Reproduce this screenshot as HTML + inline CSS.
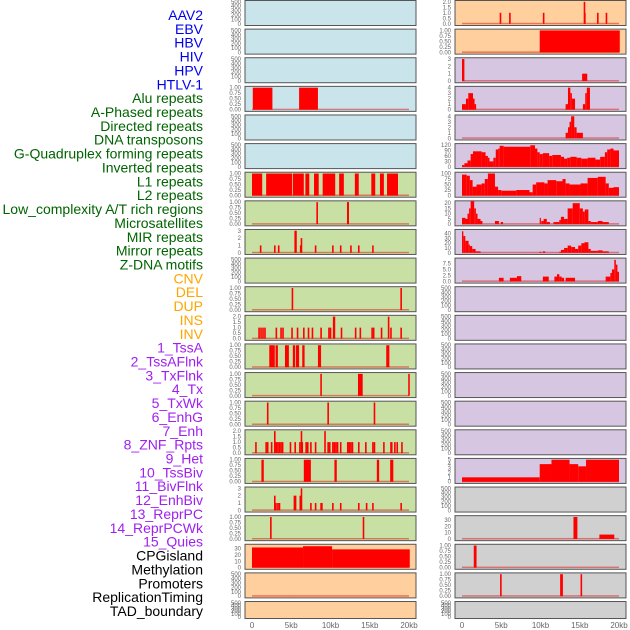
<!DOCTYPE html>
<html><head><meta charset="utf-8">
<style>
html,body{margin:0;padding:0;background:#fff;width:630px;height:630px;overflow:hidden}
svg{display:block}
.lab{font-family:"Liberation Sans",sans-serif;font-size:14px}
.tk{font-family:"Liberation Sans",sans-serif;font-size:6px;fill:#666}
.xt{font-family:"Liberation Sans",sans-serif;font-size:8px;fill:#666}
</style></head>
<body>
<svg id="chart" width="630" height="630" viewBox="0 0 630 630"></svg>
<script>
// ---------- data ----------
const trackLabels = ["AAV2","EBV","HBV","HIV","HPV","HTLV-1","Alu repeats","A-Phased repeats","Directed repeats","DNA transposons","G-Quadruplex forming repeats","Inverted repeats","L1 repeats","L2 repeats","Low_complexity A/T rich regions","Microsatellites","MIR repeats","Mirror repeats","Z-DNA motifs","CNV","DEL","DUP","INS","INV","1_TssA","2_TssAFlnk","3_TxFlnk","4_Tx","5_TxWk","6_EnhG","7_Enh","8_ZNF_Rpts","9_Het","10_TssBiv","11_BivFlnk","12_EnhBiv","13_ReprPC","14_ReprPCWk","15_Quies","CPGisland","Methylation","Promoters","ReplicationTiming","TAD_boundary"];
const trackGroups = ["virus","virus","virus","virus","virus","virus","repeat","repeat","repeat","repeat","repeat","repeat","repeat","repeat","repeat","repeat","repeat","repeat","repeat","sv","sv","sv","sv","sv","chrom","chrom","chrom","chrom","chrom","chrom","chrom","chrom","chrom","chrom","chrom","chrom","chrom","chrom","chrom","other","other","other","other","other"];
const xTickValues = [0,5,10,15,20];
const xTickLabels = ["0","5kb","10kb","15kb","20kb"];

// y-axis max per track
const trackMax = [500,500,500,1,500,500, 1,1,3,500,1,2,1,1,1,2,1,3,1, 35,500,500, 2,1, 3,4,4,120,100,21,46,9.2,500,500,500,500,500,500,5, 500,35,1,1,500];
// y tick labels per track
const T500=["0","100","200","300","400","500"], T1=["0.00","0.25","0.50","0.75","1.00"], T2=["0.0","0.5","1.0","1.5","2.0"], T3=["0","1","2","3"];
const trackTicks = [T500,T500,T500,T1,T500,T500, T1,T1,T3,T500,T1,T2,T1,T1,T1,T2,T1,T3,T1, ["0","10","20","30"],T500,T500, T2,T1, T3,["0","1","2","3","4"],["0","1","2","3","4"],["0","30","60","90","120"],["0","25","50","75","100"],["0","5","10","15","20"],["0","10","20","30","40"],["0.0","2.5","5.0","7.5"],T500,T500,T500,T500,T500,T500,["0","1","2","3","4","5"], T500,["0","10","20","30"],T1,T1,T500];

// blocks: [startKb, endKb, value]
const hivBlocks = [[0.1,2.6,1],[6.0,8.4,1]];
const aluBlocks = [[0,1.3,1],[1.8,5.1,1],[5.2,6.6,1],[6.8,7.3,1],[7.9,8.5,1],[9.0,10.6,1],[11.1,11.7,1],[13.1,13.6,1],[15.2,15.7,1],[16.3,16.8,1],[17.2,18.6,1]];
const l1Blocks = [[2.2,2.9,1],[3.0,3.3,1],[4.2,4.7,1],[5.2,5.5,1],[5.6,6.0,1],[6.4,6.7,1],[8.4,8.8,1],[17.1,17.5,1]];
const l2Blocks = [[8.7,8.9,1],[13.5,14.1,1],[19.9,20.1,1]];
const microBlocks = [[1.2,1.5,1],[6.6,7.5,1],[10.5,10.8,1],[15.9,16.2,1],[17.6,18.0,1]];
const cnvBlocks = [[0,6.5,32],[6.5,10.2,34],[10.2,20.1,29]];
const invBlocks = [[9.9,20.1,1]];
const tssAFlnkBlocks = [[0,0.5,1],[0.5,0.8,2],[0.8,1.4,3],[1.4,1.6,2],[1.6,1.8,1],[13.2,13.5,1],[13.5,13.8,4],[13.8,14.0,3],[14.0,14.4,2],[15.4,15.7,1],[15.7,15.9,3],[15.9,16.3,4]];
const txFlnkBlocks = [[13.2,13.5,1],[13.5,13.7,2],[13.7,13.9,3],[13.9,14.3,4],[14.3,14.6,2],[14.6,15.4,1]];
const txBlocks = [[0,0.3,10],[0.3,0.7,20],[0.7,1.1,35],[1.1,1.4,70],[1.4,2.5,85],[2.5,3.0,80],[3.0,3.3,60],[3.3,3.5,50],[3.5,4.0,30],[4.0,4.3,50],[4.3,4.6,95],[4.6,4.8,100],[4.8,5.3,115],[5.3,8.7,110],[8.7,9.3,118],[9.3,9.6,100],[9.6,9.9,80],[9.9,10.3,70],[10.3,11.1,75],[11.1,11.5,60],[11.5,12.6,65],[12.6,13.0,55],[13.0,13.4,45],[13.4,13.8,50],[13.8,14.6,55],[14.6,15.2,50],[15.2,16.0,45],[16.0,17.0,50],[17.0,17.6,40],[17.6,18.2,55],[18.2,18.5,80],[18.5,18.9,95],[18.9,19.3,100],[19.3,20,90]];
const txWkBlocks = [[0,0.6,95],[0.6,1.0,90],[1.0,1.35,70],[1.35,1.85,40],[1.85,2.5,50],[2.5,2.9,55],[2.9,3.3,75],[3.3,4.2,100],[4.2,4.6,40],[4.6,5.0,25],[5.0,6.9,22],[6.9,8.6,25],[8.6,9.0,15],[9.0,9.45,50],[9.45,10.5,60],[10.5,10.9,55],[10.9,12.0,70],[12.0,12.8,65],[12.8,13.2,75],[13.2,13.7,55],[13.7,15.1,50],[15.1,16.0,55],[16.0,17.3,80],[17.3,18.3,85],[18.3,18.7,55],[18.7,19.3,35],[19.3,20,38]];
const enhGBlocks = [[0,0.45,6],[0.45,0.7,5],[0.7,0.9,10],[0.9,1.1,15],[1.1,1.55,22],[1.55,1.77,15],[1.77,1.98,10],[1.98,2.36,5],[2.36,2.6,3],[4.2,4.7,3],[4.94,5.23,2],[9.9,10.05,6],[10.1,10.4,3],[10.4,10.8,5],[10.8,11.2,2],[11.65,12.4,2],[12.4,12.6,4],[12.6,13.0,7],[13.0,13.46,5],[13.46,14.1,15],[14.1,15.0,20],[15.0,15.4,15],[15.4,15.65,12],[15.65,16.1,14],[16.1,16.4,3],[16.4,17.3,2],[17.3,17.9,3],[17.9,18.7,2]];
const enhBlocks = [[0,0.17,45],[0.17,0.42,35],[0.42,0.84,25],[0.84,1.0,17],[1.0,1.3,14],[1.3,1.73,8],[1.73,2.36,3],[9.87,10.1,2],[10.3,10.6,3],[12.4,12.6,2],[12.6,13.0,6],[13.0,13.46,10],[13.46,13.9,15],[13.9,14.4,12],[14.4,14.8,8],[14.8,15.2,15],[15.2,15.6,20],[15.6,16.1,22],[16.1,16.4,8],[16.4,17.3,4],[17.3,17.9,5],[17.9,18.7,3]];
const znfBlocks = [[4.7,5.3,1.5],[6.1,7.0,1.5],[7.0,7.55,2.2],[10.3,11.05,2],[11.77,12.1,2],[12.1,12.4,3],[12.4,12.7,2],[12.7,13.0,1.5],[13.2,14.4,1.5],[18.3,18.9,2],[18.9,19.1,3.5],[19.1,19.4,5],[19.4,19.6,9],[19.6,19.8,7],[19.8,20,4]];
const quiesBlocks = [[0,9.9,1],[9.9,11.4,4],[11.4,13.7,5],[13.7,14.8,4],[14.8,15.8,3.5],[15.8,20,5]];
const methBlocks = [[14.2,14.7,35],[17.5,19.4,7]];

// spikes: [kb, value]
const aphasedSpikes = [[8.2,1],[12.1,1],[12.15,1]];
const directedSpikes = [[1.0,1],[2.8,1],[3.3,1],[5.4,3],[5.5,3],[6.1,1],[6.2,2],[8.0,1],[10.2,1],[11.2,1],[12.5,1],[13.5,1],[15.3,1]];
const gquadSpikes = [[5.05,1],[18.9,1]];
const invertedSpikes = [[0.8,1],[1.05,1],[1.3,1],[1.55,1],[3.0,1],[3.6,1],[3.85,1],[5.0,1],[5.7,1],[6.5,1],[7.1,1],[7.6,1],[8.7,1],[9.7,1],[9.9,1],[10.3,2],[10.4,2],[11.3,1],[13.1,1],[13.7,1],[15.2,1],[15.4,1],[16.4,1],[17.3,2],[17.6,1],[18.9,1]];
const lowcompSpikes = [[1.9,1],[9.6,1],[15.5,1]];
const mirSpikes = [[0.4,1],[1.7,1],[1.9,1],[2.4,1],[2.8,2],[3.0,1],[3.2,1],[3.4,1],[3.6,1],[3.8,1],[4.8,1],[5.4,1],[6.0,1],[6.2,2],[6.3,1],[6.8,1],[7.0,1],[7.4,1],[8.0,1],[9.2,2],[9.6,1],[9.8,1],[10.2,1],[10.4,1],[10.6,1],[10.8,1],[11.2,1],[12.1,1],[12.3,1],[12.5,1],[12.7,1],[13.5,1],[14.4,1],[15.3,1],[15.5,1],[16.7,1],[17.6,1],[17.7,1],[18.1,1],[18.4,1],[19.0,1]];
const mirrorSpikes = [[2.8,2],[2.95,1],[3.2,1],[3.4,1],[5.3,2],[5.45,2],[6.05,2],[6.2,3],[7.4,1],[8.0,1],[8.7,1],[8.8,1],[10.2,1],[11.2,1],[13.5,1],[14.5,1],[15.3,1],[18.9,1]];
const zdnaSpikes = [[2.3,1],[14.1,1]];
const delSpikes = [[5.05,1],[18.9,1]];
const insSpikes = [[4.8,1],[6.0,1],[10.3,1],[15.5,2],[15.55,1],[17.2,1],[18.3,1]];
const tssASpikes = [[0.0,3],[0.1,3],[15.3,1],[15.45,1],[15.6,1],[15.75,1]];
const promoterSpikes = [[1.5,1],[1.65,1]];
const replSpikes = [[4.85,1],[12.5,1],[12.65,1],[15.1,1]];

const trackBlocks = {3:hivBlocks,6:aluBlocks,12:l1Blocks,13:l2Blocks,16:microBlocks,19:cnvBlocks,23:invBlocks,25:tssAFlnkBlocks,26:txFlnkBlocks,27:txBlocks,28:txWkBlocks,29:enhGBlocks,30:enhBlocks,31:znfBlocks,38:quiesBlocks,40:methBlocks};
const trackSpikes = {7:aphasedSpikes,8:directedSpikes,10:gquadSpikes,11:invertedSpikes,14:lowcompSpikes,15:mirSpikes,17:mirrorSpikes,18:zdnaSpikes,20:delSpikes,22:insSpikes,24:tssASpikes,41:promoterSpikes,42:replSpikes};

// ---------- drawing ----------
const NS="http://www.w3.org/2000/svg";
const svg=document.getElementById('chart');
const fills={virus:"#c9e4eb",repeat:"#c9e0a5",sv:"#ffd09d",chrom:"#d6c6e1",other:"#d0d0d0"};
const labColors={virus:"#0000ee",repeat:"#006400",sv:"#ffa500",chrom:"#a020f0",other:"#000000"};
const cols=[{px0:245,px1:416,x0:252,x20:409,tickX:241},{px0:455,px1:626,x0:462,x20:619,tickX:451}];
function mk(tag,attrs,parent){const e=document.createElementNS(NS,tag);for(const k in attrs)e.setAttribute(k,attrs[k]);(parent||svg).appendChild(e);return e;}

// labels
trackLabels.forEach((t,i)=>{
  const e=mk('text',{x:203,y:15+i*13.86+5,'text-anchor':'end','class':'lab',fill:labColors[trackGroups[i]]});
  e.textContent=t;
  
  
});

trackLabels.forEach((t,i)=>{
  const c=cols[Math.floor(i/22)], r=i%22;
  const top=0.5+r*28.62, h=(r===21)?17:25;
  const xs=kb=>c.x0+(kb/20)*(c.x20-c.x0);
  const yTop=top+1.3, yBot=top+h-1.7, mx=trackMax[i];
  const ys=v=>yBot-(v/mx)*(yBot-yTop);
  const g=mk('g',{});
  
  
  mk('rect',{x:c.px0,y:top,width:c.px1-c.px0,height:h,fill:fills[trackGroups[i]],stroke:'#555','stroke-width':1},g);
  // y ticks
  const tk=trackTicks[i];
  tk.forEach((s,k)=>{
    const v=(tk.length===6&&mx===500)?k*100:parseFloat(s);
    const te=mk('text',{x:c.tickX,y:ys(v)+2,'text-anchor':'end','class':'tk'},g);
    te.textContent=s;
  });
  const hasData=trackBlocks[i]||trackSpikes[i];
  if(hasData) mk('rect',{x:xs(0),y:yBot-1,width:xs(20)-xs(0),height:1.5,fill:'rgba(220,0,0,0.45)'},g);
  (trackBlocks[i]||[]).forEach(b=>{
    const r2=mk('rect',{x:xs(b[0]),y:ys(b[2]),width:Math.max(1,xs(b[1])-xs(b[0])),height:yBot-ys(b[2]),fill:'#ff0000'},g);
    
    
  });
  (trackSpikes[i]||[]).forEach(s=>{
    const r3=mk('rect',{x:xs(s[0]),y:ys(s[1]),width:Math.max(1.6,xs(0.2)-xs(0)),height:yBot-ys(s[1]),fill:'#ff0000'},g);
    
    
  });
});

// x axes
cols.forEach((c,ci)=>{
  xTickValues.forEach((v,k)=>{
    const e=mk('text',{x:c.x0+(v/20)*(c.x20-c.x0),y:628,'text-anchor':'middle','class':'xt'});
    e.textContent=xTickLabels[k];
    
    
  });
});
</script>
</body></html>
